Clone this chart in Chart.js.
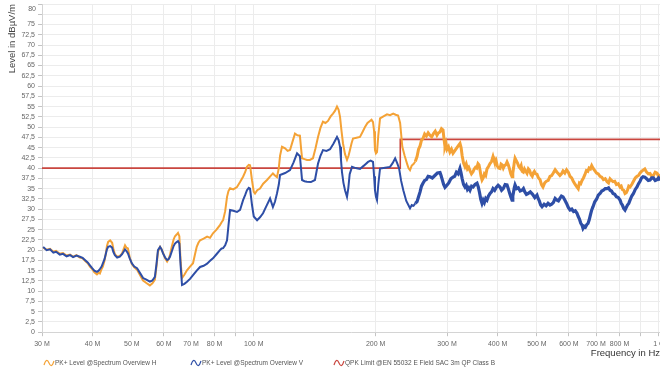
<!DOCTYPE html>
<html>
<head>
<meta charset="utf-8">
<script src="https://cdn.jsdelivr.net/npm/chart.js@4.4.1/dist/chart.umd.min.js"></script>
<style>
  html, body { margin: 0; padding: 0; background: #fff; overflow: hidden; }
  #wrap { width: 660px; height: 367px; position: relative; }
</style>
</head>
<body>
<div id="wrap"><canvas id="c" width="660" height="367"></canvas></div>
<script>
// Frequencies in MHz, levels in dBµV/m
const freqH = [30.2,30.8,31.4,32.0,32.5,33.2,33.8,34.5,35.2,35.8,36.5,37.2,37.8,38.3,38.9,39.4,39.9,40.4,41.0,41.4,41.7,42.1,42.4,42.8,43.1,43.4,43.7,44.2,44.7,45.0,45.4,46.0,46.7,47.3,48.1,48.5,48.9,49.4,50.0,50.7,51.5,52.4,53.3,54.3,55.4,56.2,57.0,57.5,58.0,58.7,59.2,59.7,60.4,61.1,61.6,62.1,62.8,63.4,63.9,64.5,65.0,65.5,66.0,66.5,67.4,68.4,69.6,70.8,71.6,72.3,73.0,73.7,75.2,76.7,78.0,79.3,80.9,82.5,83.3,84.0,85.0,85.9,86.6,87.4,89.0,90.9,92.5,94.1,95.2,96.2,97.2,97.9,99.0,100.0,100.7,102.0,103.6,105.5,107.8,109.8,111.5,112.8,114.1,115.3,116.1,117.4,119.5,121.2,122.9,124.6,126.4,128.2,130.0,130.8,131.6,133.4,135.3,137.6,140.0,142.0,144.1,146.1,148.2,150.3,152.5,154.8,156.9,158.8,160.5,162.0,163.3,164.7,166.1,168.0,169.9,171.4,172.8,174.3,175.8,179.3,182.9,185.6,188.2,190.9,193.6,195.3,197.0,198.2,199.2,200.3,201.5,203.0,205.0,209.0,213.3,217.0,220.9,224.0,227.2,229.8,232.7,235.8,239.0,241.0,
  243.1,245.5,248.0,250.5,253.0,255.2,257.4,259.5,261.7,264.2,266.8,269.5,272.3,275.0,277.8,280.6,283.4,285.8,288.3,290.8,293.3,295.0,296.6,298.3,300.0,302.5,305.0,307.7,310.4,313.4,316.5,319.7,323.0,325.0,327.0,329.6,332.3,334.6,337.0,339.4,341.9,344.8,347.8,350.2,352.7,355.2,357.8,359.9,362.0,364.0,366.1,368.5,371.0,373.8,376.6,379.8,383.1,386.4,389.7,391.8,394.0,396.5,399.0,402.2,405.5,408.0,410.5,413.2,416.0,419.0,422.0,425.0,428.0,431.1,434.2,436.1,438.0,439.8,441.7,444.8,448.0,451.2,454.4,457.2,460.0,463.0,466.0,469.4,472.8,476.4,480.0,483.5,487.0,490.0,493.0,496.7,500.4,504.7,509.0,513.3,517.7,522.8,528.0,533.4,538.8,543.9,549.0,554.8,560.7,565.3,570.0,575.1,580.2,586.1,592.0,597.9,603.8,609.4,615.0,621.6,628.2,632.6,637.0,641.6,646.3,651.6,657.0,662.5,668.0,673.0,678.0,683.0,688.1,695.0,702.0,709.0,716.1,723.0,730.0,737.6,745.3,751.6,758.0,764.5,771.1,778.5,786.0,794.2,802.4,807.7,813.0,819.2,825.4,831.2,837.0,843.1,849.3,857.6,866.0,874.8,883.6,891.3,899.0,906.7,914.5,923.7,933.0,942.2,951.4,960.7,970.0,980.0,990.0,998.5,1007];
const levelH = [20.6,20.1,20.3,19.6,19.8,19.1,19.3,18.7,18.9,18.4,18.8,18.2,18.0,17.4,16.8,16.0,15.4,14.6,14.1,14.5,14.3,15.4,16.0,17.4,19.0,21.0,22.0,22.4,21.8,20.4,19.0,18.4,18.6,19.2,21.2,20.6,20.4,18.2,16.6,15.8,15.2,13.9,12.6,12.0,11.4,11.9,12.8,16.0,19.6,20.8,20.2,19.4,18.0,17.2,17.8,18.8,21.0,22.6,23.4,23.8,24.2,23.4,17.0,13.2,14.0,15.1,16.0,16.8,19.0,20.8,21.8,22.4,22.8,23.3,23.0,24.1,25.0,26.1,26.8,27.3,29.5,33.0,34.4,35.1,34.8,35.4,36.6,37.9,39.0,40.3,40.8,40.7,37.0,34.2,33.8,34.6,35.0,36.2,37.1,38.0,38.7,38.2,37.8,40.0,43.0,45.2,44.8,44.2,44.4,46.4,48.4,48.0,47.9,45.0,42.4,42.2,42.0,42.0,42.4,44.8,47.6,49.8,51.3,51.0,51.5,52.6,53.3,54.0,55.0,54.2,52.5,49.0,46.0,43.4,42.0,43.0,44.4,46.0,47.2,47.4,47.6,48.8,50.0,51.0,51.5,51.8,51.2,49.0,44.4,43.6,43.9,48.0,52.1,52.6,53.1,52.9,53.3,53.0,52.8,51.0,45.2,43.0,41.1,40.0,
  39.5,40.6,41.0,41.6,42.8,44.6,45.4,46.8,47.2,48.3,47.8,48.6,48.0,47.6,48.4,49.0,48.0,48.6,48.8,49.6,49.3,47.0,45.2,46.0,44.6,45.2,43.9,44.6,43.6,44.2,44.8,45.4,46.0,45.0,43.0,41.2,40.3,41.0,39.8,40.2,39.4,38.6,39.1,39.8,40.2,40.0,41.1,40.8,39.5,38.0,37.1,37.6,38.6,38.2,39.8,40.4,41.1,41.6,42.8,42.0,41.2,41.8,40.6,40.0,39.9,41.0,40.8,40.0,40.6,40.8,41.5,40.8,39.8,38.6,37.9,38.8,40.0,41.4,42.4,41.8,41.2,40.4,40.0,40.6,39.2,39.0,39.8,39.2,38.7,39.8,39.4,38.4,38.0,38.8,39.2,38.6,38.5,37.6,37.2,36.0,35.4,36.4,36.8,37.0,38.0,38.2,38.8,39.6,39.0,38.6,38.2,38.6,39.3,38.8,39.6,39.0,38.0,37.6,36.8,36.0,35.4,35.0,36.4,36.2,37.0,37.6,38.4,39.4,39.2,40.0,39.8,40.6,40.0,39.4,38.8,38.6,38.0,37.8,37.2,37.4,36.7,36.4,37.4,37.0,36.7,36.8,36.0,36.2,35.4,35.6,34.8,34.6,33.8,34.0,34.6,35.6,35.4,36.0,36.8,37.6,38.0,38.2,38.8,39.2,39.5,39.8,39.0,38.6,38.7,38.0,38.2,39.0,38.8,38.0,38.5];

const freqV = [30.2,30.8,31.4,32.0,32.5,33.2,33.8,34.5,35.2,35.8,36.5,37.2,37.8,38.3,38.9,39.4,39.9,40.4,41.0,41.4,41.7,42.1,42.4,42.8,43.1,43.4,43.7,44.2,44.7,45.0,45.4,46.0,46.7,47.3,48.1,48.5,48.9,49.4,50.0,50.7,51.5,52.4,53.3,54.3,55.4,56.2,57.0,57.5,58.0,58.7,59.2,59.7,60.4,61.1,61.6,62.1,62.8,63.4,63.9,64.5,65.0,65.5,66.0,66.5,67.4,68.4,69.6,70.8,72.3,73.7,75.2,76.7,78.0,79.3,80.9,82.5,83.3,84.0,85.0,85.9,86.6,87.4,89.0,90.9,92.5,94.1,95.2,96.2,97.2,97.9,99.0,100.0,101.9,103.6,105.4,107.5,109.7,111.5,112.8,114.1,115.3,116.1,119.5,122.9,125.4,127.9,130.0,130.8,131.6,133.4,135.3,138.4,141.6,144.1,146.1,148.2,151.2,154.3,157.4,160.5,162.0,163.3,164.2,165.1,166.5,168.0,169.9,171.2,172.5,174.8,178.5,182.9,187.0,191.5,194.3,197.0,198.2,199.2,200.3,201.5,203.0,205.0,211.0,217.0,220.2,223.4,226.0,228.5,231.0,234.0,238.0,
  243.1,245.5,248.0,250.5,253.0,255.2,257.4,259.5,261.7,264.2,266.8,269.5,272.3,276.0,280.0,284.0,288.3,290.0,292.0,294.3,296.6,299.8,303.0,306.6,310.4,313.4,316.5,319.7,323.0,325.0,327.0,329.6,332.3,334.6,337.0,339.4,341.9,345.0,348.0,351.8,355.8,358.4,361.0,363.5,366.1,368.5,371.0,373.8,376.6,379.8,383.1,386.4,389.7,393.3,397.0,401.2,405.5,409.2,413.0,417.5,422.0,425.0,428.0,431.1,434.2,436.1,438.0,439.8,441.7,445.8,450.0,454.8,459.6,463.3,467.0,471.2,475.5,481.7,488.0,494.2,500.4,503.7,507.0,511.0,514.9,521.0,527.0,532.9,538.8,543.9,549.0,554.8,560.7,565.3,570.0,575.1,580.2,586.1,592.0,597.9,603.8,610.0,616.0,622.1,628.2,632.6,637.0,641.6,646.3,650.0,654.5,659.0,663.9,668.8,673.4,678.0,683.0,688.1,695.0,702.0,709.0,716.1,723.0,730.0,737.6,745.3,751.6,758.0,764.5,771.1,778.5,786.0,794.2,802.4,807.7,813.0,819.2,825.4,831.2,837.0,843.1,849.3,857.6,866.0,874.8,883.6,891.3,899.0,906.7,914.5,923.7,933.0,942.2,951.4,960.7,970.0,980.0,990.0,998.5,1007];
const levelV = [20.8,20.0,20.2,19.4,19.6,18.9,19.1,18.5,18.8,18.3,18.7,18.4,18.1,17.6,17.0,16.3,15.6,15.0,14.7,15.0,15.4,16.0,16.8,17.8,19.0,20.2,20.8,21.0,20.6,19.6,18.8,18.2,18.4,19.0,20.2,19.8,19.2,18.0,16.8,16.0,15.6,14.4,13.2,12.8,12.3,12.6,13.5,16.5,20.0,20.8,20.2,19.2,18.2,17.6,17.8,18.4,19.8,21.0,21.6,22.0,22.2,21.6,16.0,11.5,11.8,12.3,13.0,13.9,15.0,15.9,16.2,16.7,17.4,18.0,19.0,20.0,20.4,20.5,21.2,22.4,26.0,29.8,29.6,29.3,29.8,32.2,33.4,34.6,35.2,35.0,31.0,28.2,27.3,28.0,29.0,30.8,32.6,30.5,31.8,33.8,36.0,38.3,38.8,39.5,41.4,43.6,42.9,40.0,37.1,36.8,36.7,36.6,37.1,41.1,43.0,44.4,44.2,44.6,46.0,47.6,46.8,45.2,42.0,39.1,36.4,34.6,33.0,35.2,38.5,40.3,40.0,39.8,40.6,41.5,41.8,41.5,38.0,34.6,33.0,32.2,36.0,39.9,40.1,40.3,41.2,42.4,41.2,39.9,37.0,34.6,32.0,
  30.2,31.0,30.8,31.4,31.8,33.0,34.2,35.6,36.3,37.0,37.2,38.0,37.9,37.6,38.2,38.8,38.9,38.2,37.2,36.0,35.3,35.8,36.4,37.4,37.8,38.0,39.0,38.6,39.9,38.8,37.4,36.0,35.4,35.8,34.8,35.2,34.6,35.6,35.4,36.0,36.3,35.4,34.0,32.4,31.4,32.2,31.6,32.6,32.2,33.2,33.8,34.2,35.0,34.6,35.3,35.8,35.4,34.6,35.0,36.0,35.9,35.0,34.0,33.0,32.2,33.2,34.2,35.2,35.9,35.0,35.2,34.4,34.6,35.0,34.2,33.6,33.8,34.2,33.6,32.8,33.4,32.6,32.0,31.0,30.6,31.2,30.8,31.4,31.0,31.2,31.6,32.6,32.2,32.0,32.6,33.2,33.0,32.2,31.4,30.4,29.8,30.0,29.4,29.6,29.0,28.2,27.6,26.6,26.1,25.3,25.8,25.6,26.2,26.5,27.4,28.6,29.8,30.6,31.8,32.4,33.4,33.8,34.4,34.6,35.0,35.0,35.2,34.6,34.4,33.8,33.6,33.0,32.8,32.2,31.4,31.0,30.2,29.8,30.4,31.0,31.4,32.2,33.2,33.8,34.8,35.4,36.2,36.8,37.6,37.9,37.8,37.4,37.0,37.1,37.6,37.6,37.0,37.2,37.6,37.0];

// Limit line (steps up at 230 MHz)
const freqLimit = [30, 230, 230, 1007];
const levelLimit = [40, 40, 47, 47];

// Axis ticks
const xTicks = [30, 40, 50, 60, 70, 80, 90, 100, 200, 300, 400, 500, 600, 700, 800, 900, 1000];
const xTickLabels = ['30 M', '40 M', '50 M', '60 M', '70 M', '80 M', '', '100 M', '200 M', '300 M', '400 M', '500 M', '600 M', '700 M', '800 M', '', '1 G'];

const seriesNames = ['PK+ Level @Spectrum Overview H', 'PK+ Level @Spectrum Overview V', 'QPK Limit @EN 55032 E Field SAC 3m QP Class B'];
const seriesColors = ['#F4A236', '#2E4EA6', '#C9463F'];

const FONT = '"Liberation Sans", Arial, sans-serif';
const pts = (xs, ys) => xs.map((x, i) => ({ x: x, y: ys[i] }));

// Thicker trace where the measured spectrum gets noisier
const noisyWidth = (base, wide) => ctx => (ctx.p0.parsed.x > 250 ? wide : base);

const legendPlugin = {
  id: 'bottomLegend',
  afterDraw(chart) {
    const c = chart.ctx;
    c.save();
    // top tick label, sits just inside the plot top
    c.font = '7px ' + FONT;
    c.fillStyle = '#666';
    c.textAlign = 'right';
    c.textBaseline = 'middle';
    c.fillText('80', 36, 9);

    const xs = [44, 191, 334];
    const y = 363;
    c.textAlign = 'left';
    c.font = '6.5px ' + FONT;
    seriesNames.forEach((name, i) => {
      const x = xs[i];
      c.strokeStyle = seriesColors[i];
      c.lineWidth = 1.2;
      c.beginPath();
      c.moveTo(x, y + 2);
      c.quadraticCurveTo(x + 2.5, y - 6, x + 5, y);
      c.quadraticCurveTo(x + 7.5, y + 6, x + 10, y - 2);
      c.stroke();
      c.fillStyle = '#555';
      c.fillText(name, x + 11, y);
    });
    c.restore();
  }
};

new Chart(document.getElementById('c'), {
  type: 'line',
  data: {
    datasets: [
      {
        label: seriesNames[1],
        data: pts(freqV, levelV),
        borderColor: seriesColors[1],
        borderWidth: 2,
        segment: { borderWidth: noisyWidth(2, 3.2) },
        pointRadius: 0, tension: 0, order: 0
      },
      {
        label: seriesNames[0],
        data: pts(freqH, levelH),
        borderColor: seriesColors[0],
        borderWidth: 2,
        segment: { borderWidth: noisyWidth(2, 3) },
        pointRadius: 0, tension: 0, order: 1
      },
      {
        label: seriesNames[2],
        data: pts(freqLimit, levelLimit),
        borderColor: seriesColors[2],
        borderWidth: 1.6,
        pointRadius: 0, tension: 0, order: 2
      }
    ]
  },
  options: {
    responsive: false,
    animation: false,
    devicePixelRatio: 1,
    layout: { padding: { top: 4, left: 0, right: 0, bottom: 8 } },
    plugins: { legend: { display: false }, tooltip: { enabled: false } },
    scales: {
      x: {
        type: 'logarithmic',
        min: 30,
        max: 1007,
        afterBuildTicks: s => { s.ticks = xTicks.map(v => ({ value: v })); },
        afterFit: s => { s.paddingLeft = 0; s.paddingRight = 0; },
        ticks: {
          autoSkip: false, maxRotation: 0, padding: 4,
          color: '#666', font: { size: 7, family: FONT },
          callback: (v, i) => xTickLabels[i]
        },
        grid: { color: '#ececec', tickColor: '#c4c4c4', tickLength: 4 },
        border: { color: '#d4d4d4' },
        title: {
          display: true, text: 'Frequency in Hz', align: 'end',
          color: '#333', font: { size: 9.5, family: FONT }, padding: { top: -5, bottom: 0 }
        }
      },
      y: {
        min: 0, max: 80,
        afterFit: s => { s.width = 42; s.paddingTop = 0; s.paddingBottom = 0; },
        ticks: {
          stepSize: 2.5, autoSkip: false, padding: 3,
          color: '#666', font: { size: 7, family: FONT },
          callback: v => (v >= 77.5 ? '' : String(v).replace('.', ','))
        },
        grid: { color: '#ececec', tickColor: '#c4c4c4', tickLength: 4 },
        border: { color: '#d4d4d4' },
        title: {
          display: true, text: 'Level in dBµV/m', align: 'end',
          color: '#444', font: { size: 9.5, family: FONT }, padding: { top: 7, bottom: 0 }
        }
      }
    }
  },
  plugins: [legendPlugin]
});
</script>
</body>
</html>
